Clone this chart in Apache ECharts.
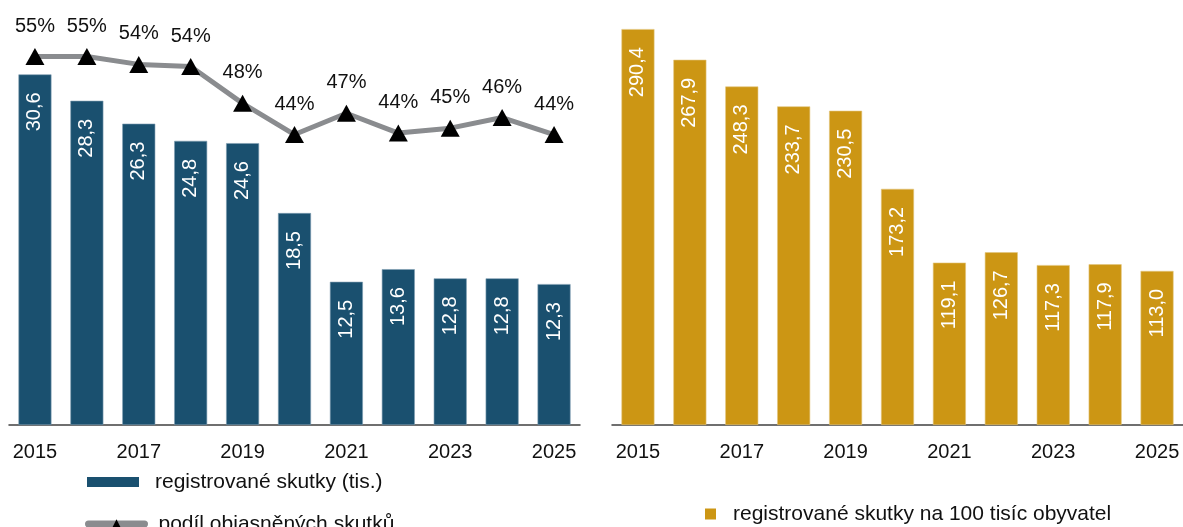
<!DOCTYPE html>
<html>
<head>
<meta charset="utf-8">
<script src="https://cdn.jsdelivr.net/npm/echarts@6/dist/echarts.min.js"></script>
<style>
html,body{margin:0;padding:0;background:#fff;}
#chart{width:1183px;height:527px;}
</style>
</head>
<body>
<div id="chart"></div>
<script>
const years = ['2015','2016','2017','2018','2019','2020','2021','2022','2023','2024','2025'];
const registered = [30.6, 28.3, 26.3, 24.8, 24.6, 18.5, 12.5, 13.6, 12.8, 12.8, 12.3];
const clearedShare = [55.0, 55.0, 53.9, 53.6, 48.4, 44.0, 47.0, 44.2, 44.9, 46.4, 44.0];
const per100k = [290.4, 267.9, 248.3, 233.7, 230.5, 173.2, 119.1, 126.7, 117.3, 117.9, 113.0];

const nameBars = 'registrované skutky (tis.)';
const nameLine = 'podíl objasněných skutků';
const nameRate = 'registrované skutky na 100 tisíc obyvatel';

const FONT = "'Liberation Sans', Arial, sans-serif";
const BLUE = '#1a506f';
const GOLD = '#cc9614';
const fmtComma = v => v.toFixed(1).replace('.', ',');

const chart = echarts.init(document.getElementById('chart'), null, {renderer: 'canvas'});

const xAxisBase = (gridIndex) => ({
  type: 'category',
  gridIndex: gridIndex,
  data: years,
  axisTick: {show: false},
  axisLine: {lineStyle: {color: '#404040', width: 1.5}},
  axisLabel: {interval: 1, fontSize: 20, color: '#111', fontFamily: FONT, margin: 17}
});

const barLabel = {
  show: true,
  position: 'insideTop',
  distance: 18,
  rotate: 90,
  align: 'right',
  verticalAlign: 'middle',
  color: '#fff',
  fontSize: 20,
  fontFamily: FONT,
  formatter: p => fmtComma(p.value)
};

const legendText = {fontSize: 21, color: '#111', fontFamily: FONT, lineHeight: 22};

chart.setOption({
  animation: false,
  textStyle: {fontFamily: FONT},
  grid: [
    {left: 9, width: 571, top: 24, height: 401},
    {left: 612, width: 571, top: 16, height: 409}
  ],
  xAxis: [xAxisBase(0), xAxisBase(1)],
  yAxis: [
    {type: 'value', gridIndex: 0, min: 0, max: 35, show: false, splitLine: {show: false}},
    {type: 'value', gridIndex: 0, min: 3, max: 59.6, show: false, splitLine: {show: false}},
    {type: 'value', gridIndex: 1, min: 0, max: 300, show: false, splitLine: {show: false}}
  ],
  legend: [
    {
      data: [{name: nameBars, icon: 'rect'}],
      padding: 0,
      left: 87,
      top: 471,
      itemWidth: 52,
      itemHeight: 10,
      itemStyle: {borderWidth: 0},
      textStyle: Object.assign({padding: [0, 0, 0, 11]}, legendText)
    },
    {
      data: [{name: nameLine}],
      padding: 0,
      left: 85,
      top: 513,
      itemWidth: 56,
      itemHeight: 12,
      itemStyle: {borderWidth: 0},
      lineStyle: {width: 7, color: '#8a8c8f', cap: 'round'},
      textStyle: Object.assign({padding: [0, 0, 0, 9]}, legendText)
    },
    {
      data: [{name: nameRate, icon: 'rect'}],
      padding: 0,
      left: 705,
      top: 503,
      itemWidth: 11,
      itemHeight: 11,
      itemStyle: {borderWidth: 0},
      textStyle: Object.assign({padding: [0, 0, 0, 12]}, legendText)
    }
  ],
  series: [
    {
      name: nameBars,
      type: 'bar',
      xAxisIndex: 0,
      yAxisIndex: 0,
      data: registered,
      barWidth: 33,
      itemStyle: {color: BLUE, borderColor: '#7f9db1', borderWidth: 0.6},
      label: barLabel
    },
    {
      name: nameLine,
      type: 'line',
      xAxisIndex: 0,
      yAxisIndex: 1,
      data: clearedShare,
      symbol: 'triangle',
      symbolSize: [19, 17],
      itemStyle: {color: '#000'},
      lineStyle: {color: '#8a8c8f', width: 5},
      label: {
        show: true,
        position: 'top',
        distance: 12,
        fontSize: 20,
        color: '#111',
        fontFamily: FONT,
        formatter: p => Math.round(p.value) + '%'
      },
      z: 5
    },
    {
      name: nameRate,
      type: 'bar',
      xAxisIndex: 1,
      yAxisIndex: 2,
      data: per100k,
      barWidth: 33,
      itemStyle: {color: GOLD, borderColor: '#e3c67e', borderWidth: 0.6},
      label: barLabel
    }
  ]
});
</script>
</body>
</html>
